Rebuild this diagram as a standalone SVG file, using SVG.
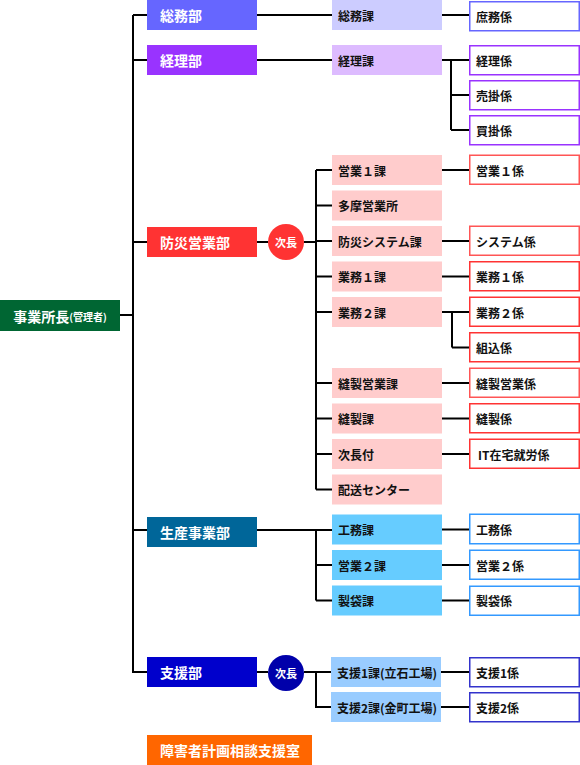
<svg xmlns="http://www.w3.org/2000/svg" width="580" height="765" viewBox="0 0 580 765">
<style>
text{font-family:"Noto Sans CJK JP","Noto Sans",sans-serif;font-weight:bold;dominant-baseline:central}
.dt{fill:#fff;font-size:14px}
.st{fill:#111;font-size:12px}
.lt{fill:#111;font-size:12px}
.ct{fill:#fff;font-size:11px;text-anchor:middle}
.leaf{fill:#fff;stroke-width:1.5}
.ln{stroke:#000;stroke-width:2;fill:none}
</style>
<rect width="580" height="765" fill="#fff"/>
<g id="connectors" class="ln">
<path d="M120 315H133M133 15V673M133 15H147M133 60H147M133 242H147M133 530H147M133 672H147"/>
<path d="M257 15H332M442 15H469"/>
<path d="M257 60H332M442 60H451M451 60V130M451 60H469M451 95H469M451 130H469"/>
<path d="M257 242H268M304 242H316M316 170V489.5M316 170H332M316 205.5H332M316 241H332M316 276.5H332M316 312H332M316 383H332M316 418.5H332M316 454H332M316 489.5H332"/>
<path d="M442 170H469M442 241H469M442 276.5H469M442 312H452M452 312V347.5M452 312H469M452 347.5H469M442 383H469M442 418.5H469M442 454H469"/>
<path d="M257 530H332M316 530V600.5M316 565H332M316 600.5H332M442 529.5H469M442 565H469M442 600.5H469"/>
<path d="M257 672H268M304 672H332M316 672V707H332M441 672H469M441 707H469"/>
</g>
<g id="root"><rect x="0" y="300" width="120" height="31" fill="#006633"/><text x="60" y="315.5" fill="#fff" font-size="14" text-anchor="middle">事業所長<tspan font-size="10">(管理者)</tspan></text></g>
<g id="dept-soumu"><rect x="147" y="0" width="110" height="30" fill="#6666FF"/><text class="dt" x="160" y="15">総務部</text></g>
<g id="dept-keiri"><rect x="147" y="45" width="110" height="30" fill="#9933FF"/><text class="dt" x="160" y="60">経理部</text></g>
<g id="dept-bousai"><rect x="147" y="227" width="110" height="30" fill="#FF3333"/><text class="dt" x="160" y="242">防災営業部</text></g>
<g id="dept-seisan"><rect x="147" y="517" width="110" height="30" fill="#006699"/><text class="dt" x="160" y="532">生産事業部</text></g>
<g id="dept-shien"><rect x="147" y="657" width="110" height="30" fill="#0000CC"/><text class="dt" x="160" y="672">支援部</text></g>
<g id="dept-shogai"><rect x="147" y="735" width="165" height="30" fill="#FF6600"/><text class="dt" x="160" y="750">障害者計画相談支援室</text></g>
<g id="jicho1"><circle cx="286" cy="242" r="18" fill="#FF3333"/><text class="ct" x="286" y="242">次長</text></g>
<g id="jicho2"><circle cx="286" cy="673" r="18" fill="#0000AA"/><text class="ct" x="286" y="673">次長</text></g>
<g id="sec-soumuka"><rect x="332" y="0" width="110" height="30" fill="#CCCCFF"/><text class="st" x="338" y="15">総務課</text></g>
<g id="sec-keirika"><rect x="332" y="45" width="110" height="30" fill="#DDBBFF"/><text class="st" x="338" y="60">経理課</text></g>
<g id="sec-eigyo1"><rect x="332" y="155" width="110" height="30" fill="#FFCCCC"/><text class="st" x="338" y="170">営業１課</text></g>
<g id="sec-tama"><rect x="332" y="190.5" width="110" height="30" fill="#FFCCCC"/><text class="st" x="338" y="205.5">多摩営業所</text></g>
<g id="sec-system"><rect x="332" y="226" width="110" height="30" fill="#FFCCCC"/><text class="st" x="338" y="241">防災システム課</text></g>
<g id="sec-gyomu1"><rect x="332" y="261.5" width="110" height="30" fill="#FFCCCC"/><text class="st" x="338" y="276.5">業務１課</text></g>
<g id="sec-gyomu2"><rect x="332" y="297" width="110" height="30" fill="#FFCCCC"/><text class="st" x="338" y="312">業務２課</text></g>
<g id="sec-hosei-eigyo"><rect x="332" y="368" width="110" height="30" fill="#FFCCCC"/><text class="st" x="338" y="383">縫製営業課</text></g>
<g id="sec-hosei"><rect x="332" y="403.5" width="110" height="30" fill="#FFCCCC"/><text class="st" x="338" y="418.5">縫製課</text></g>
<g id="sec-jichofu"><rect x="332" y="439" width="110" height="30" fill="#FFCCCC"/><text class="st" x="338" y="454">次長付</text></g>
<g id="sec-haisou"><rect x="332" y="474.5" width="110" height="30" fill="#FFCCCC"/><text class="st" x="338" y="489.5">配送センター</text></g>
<g id="sec-koumu"><rect x="332" y="514.5" width="110" height="30" fill="#66CCFF"/><text class="st" x="338" y="529.5">工務課</text></g>
<g id="sec-eigyo2"><rect x="332" y="550" width="110" height="30" fill="#66CCFF"/><text class="st" x="338" y="565">営業２課</text></g>
<g id="sec-seitai"><rect x="332" y="585.5" width="110" height="30" fill="#66CCFF"/><text class="st" x="338" y="600.5">製袋課</text></g>
<g id="sec-shien1"><rect x="331" y="657" width="110" height="30" fill="#99CCFF"/><text class="st" x="337" y="672">支援1課(立石工場)</text></g>
<g id="sec-shien2"><rect x="331" y="692" width="110" height="30" fill="#99CCFF"/><text class="st" x="337" y="707">支援2課(金町工場)</text></g>
<g id="leaf-shomu"><rect class="leaf" x="469.75" y="1.75" width="109.5" height="29" stroke="#6666FF"/><text class="lt" x="476" y="16">庶務係</text></g>
<g id="leaf-keiri"><rect class="leaf" x="469.75" y="45.75" width="109.5" height="29" stroke="#9933FF"/><text class="lt" x="476" y="60.5">経理係</text></g>
<g id="leaf-urikake"><rect class="leaf" x="469.75" y="80.75" width="109.5" height="29" stroke="#9933FF"/><text class="lt" x="476" y="95.5">売掛係</text></g>
<g id="leaf-kaikake"><rect class="leaf" x="469.75" y="115.75" width="109.5" height="29" stroke="#9933FF"/><text class="lt" x="476" y="130.5">買掛係</text></g>
<g id="leaf-eigyo1"><rect class="leaf" x="469.75" y="155.25" width="109.5" height="29" stroke="#FF5555"/><text class="lt" x="476" y="170">営業１係</text></g>
<g id="leaf-system"><rect class="leaf" x="469.75" y="226.25" width="109.5" height="29" stroke="#FF5555"/><text class="lt" x="476" y="241">システム係</text></g>
<g id="leaf-gyomu1"><rect class="leaf" x="469.75" y="261.75" width="109.5" height="29" stroke="#FF3333"/><text class="lt" x="476" y="276.5">業務１係</text></g>
<g id="leaf-gyomu2"><rect class="leaf" x="469.75" y="297.25" width="109.5" height="29" stroke="#FF3333"/><text class="lt" x="476" y="312">業務２係</text></g>
<g id="leaf-kumikomi"><rect class="leaf" x="469.75" y="332.75" width="109.5" height="29" stroke="#FF3333"/><text class="lt" x="476" y="347.5">組込係</text></g>
<g id="leaf-hosei-eigyo"><rect class="leaf" x="469.75" y="368.25" width="109.5" height="29" stroke="#FF5555"/><text class="lt" x="476" y="383">縫製営業係</text></g>
<g id="leaf-hosei"><rect class="leaf" x="469.75" y="403.75" width="109.5" height="29" stroke="#FF3333"/><text class="lt" x="476" y="418.5">縫製係</text></g>
<g id="leaf-it"><rect class="leaf" x="469.75" y="439.25" width="109.5" height="29" stroke="#FF3333"/><text class="lt" x="478" y="454">IT在宅就労係</text></g>
<g id="leaf-koumu"><rect class="leaf" x="469.75" y="514.25" width="109.5" height="29.5" stroke="#3399FF"/><text class="lt" x="476" y="529.5">工務係</text></g>
<g id="leaf-eigyo2"><rect class="leaf" x="469.75" y="550.25" width="109.5" height="29" stroke="#3399FF"/><text class="lt" x="476" y="565">営業２係</text></g>
<g id="leaf-seitai"><rect class="leaf" x="469.75" y="586.25" width="109.5" height="29" stroke="#3399FF"/><text class="lt" x="476" y="600.5">製袋係</text></g>
<g id="leaf-shien1"><rect class="leaf" x="469.75" y="657.75" width="109.5" height="29" stroke="#3333CC"/><text class="lt" x="476" y="672">支援1係</text></g>
<g id="leaf-shien2"><rect class="leaf" x="469.75" y="692.75" width="109.5" height="29" stroke="#3333CC"/><text class="lt" x="476" y="707">支援2係</text></g>
</svg>
